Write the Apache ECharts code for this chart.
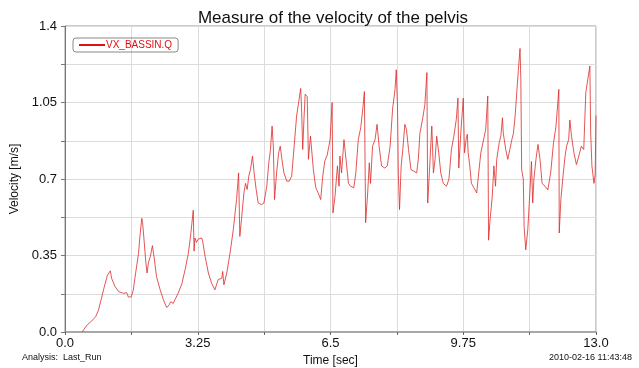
<!DOCTYPE html>
<html>
<head>
<meta charset="utf-8">
<script src="https://cdn.jsdelivr.net/npm/echarts@6/dist/echarts.min.js"></script>
<style>
  html, body { margin: 0; padding: 0; background: #fff; }
  #chart { width: 639px; height: 368px; }
</style>
</head>
<body>
<div id="chart"></div>
<script>
// time samples [sec]
const time = [
  0.42, 0.53, 0.65, 0.75, 0.82, 0.90, 0.98, 1.04, 1.11, 1.14, 1.22, 1.31, 1.43, 1.51, 1.55, 1.62,
  1.67, 1.73, 1.80, 1.84, 1.88, 1.90, 1.94, 1.98, 2.01, 2.04, 2.09, 2.14, 2.19, 2.24, 2.33, 2.41,
  2.49, 2.55, 2.59, 2.65, 2.69, 2.77, 2.86, 2.94, 3.02, 3.08, 3.14, 3.16, 3.18, 3.22, 3.26, 3.30,
  3.35, 3.37, 3.43, 3.51, 3.59, 3.67, 3.75, 3.84, 3.86, 3.89, 3.96, 4.04, 4.12, 4.20, 4.25, 4.28,
  4.32, 4.38, 4.42, 4.46, 4.50, 4.54, 4.59, 4.63, 4.68, 4.73, 4.81, 4.87, 4.94, 4.99, 5.03, 5.07,
  5.10, 5.13, 5.18, 5.23, 5.27, 5.31, 5.36, 5.43, 5.49, 5.55, 5.61, 5.67, 5.72, 5.77, 5.79, 5.82,
  5.85, 5.88, 5.93, 5.96, 6.01, 6.08, 6.14, 6.20, 6.26, 6.31, 6.36, 6.42, 6.49, 6.54, 6.56, 6.61,
  6.67, 6.71, 6.73, 6.77, 6.83, 6.88, 6.94, 6.99, 7.07, 7.12, 7.18, 7.24, 7.29, 7.33, 7.36, 7.41,
  7.45, 7.48, 7.53, 7.59, 7.64, 7.69, 7.75, 7.83, 7.89, 7.96, 8.02, 8.08, 8.11, 8.14, 8.16, 8.19,
  8.23, 8.27, 8.32, 8.36, 8.41, 8.47, 8.54, 8.61, 8.65, 8.69, 8.76, 8.81, 8.86, 8.88, 8.92, 8.98,
  9.02, 9.06, 9.10, 9.15, 9.20, 9.26, 9.34, 9.40, 9.46, 9.52, 9.58, 9.62, 9.64, 9.69, 9.75, 9.78,
  9.82, 9.85, 9.87, 9.91, 9.95, 10.01, 10.08, 10.12, 10.18, 10.24, 10.30, 10.35, 10.37, 10.40, 10.46, 10.50,
  10.54, 10.57, 10.63, 10.67, 10.71, 10.73, 10.79, 10.84, 10.89, 10.94, 10.98, 11.02, 11.06, 11.10, 11.14, 11.16,
  11.18, 11.22, 11.24, 11.28, 11.33, 11.38, 11.42, 11.45, 11.48, 11.53, 11.58, 11.63, 11.68, 11.75, 11.82, 11.89,
  11.96, 12.02, 12.09, 12.10, 12.14, 12.20, 12.24, 12.28, 12.33, 12.36, 12.40, 12.46, 12.52, 12.58, 12.64, 12.70,
  12.75, 12.80, 12.85, 12.87, 12.90, 12.95, 12.98, 13.0
]
// VX_BASSIN.Q velocity [m/s]
const velocity = [
  0.0, 0.03, 0.05, 0.07, 0.10, 0.16, 0.22, 0.26, 0.28, 0.246, 0.21, 0.185, 0.177, 0.18, 0.16, 0.16,
  0.19, 0.27, 0.36, 0.45, 0.52, 0.50, 0.41, 0.315, 0.27, 0.315, 0.346, 0.395, 0.33, 0.254, 0.193, 0.147,
  0.112, 0.124, 0.139, 0.13, 0.147, 0.177, 0.22, 0.285, 0.36, 0.45, 0.557, 0.37, 0.43, 0.41, 0.425, 0.42,
  0.43, 0.415, 0.346, 0.27, 0.223, 0.193, 0.24, 0.246, 0.277, 0.216, 0.27, 0.36, 0.468, 0.606, 0.728, 0.437,
  0.514, 0.636, 0.68, 0.652, 0.713, 0.743, 0.805, 0.728, 0.652, 0.59, 0.583, 0.59, 0.667, 0.774, 0.835, 0.942,
  0.85, 0.606, 0.728, 0.82, 0.85, 0.79, 0.728, 0.69, 0.69, 0.713, 0.85, 0.988, 1.05, 1.114, 1.034, 0.835,
  0.973, 1.088, 1.077, 0.79, 0.896, 0.743, 0.66, 0.636, 0.606, 0.713, 0.782, 0.81, 0.88, 1.05, 0.545, 0.62,
  0.76, 0.667, 0.805, 0.728, 0.88, 0.79, 0.68, 0.667, 0.66, 0.728, 0.88, 0.935, 1.02, 1.10, 0.50, 0.636,
  0.774, 0.68, 0.85, 0.88, 0.95, 0.85, 0.76, 0.75, 0.76, 0.85, 1.02, 1.11, 1.20, 1.034, 0.728, 0.56,
  0.76, 0.835, 0.95, 0.927, 0.835, 0.743, 0.736, 0.728, 0.79, 0.91, 0.98, 1.04, 1.187, 0.59, 0.728, 0.942,
  0.728, 0.79, 0.896, 0.82, 0.728, 0.68, 0.667, 0.70, 0.835, 0.896, 0.973, 1.07, 0.75, 0.91, 1.07, 0.82,
  0.88, 0.905, 0.82, 0.76, 0.68, 0.66, 0.636, 0.713, 0.82, 0.873, 0.927, 1.08, 0.42, 0.50, 0.62, 0.76,
  0.667, 0.79, 0.866, 0.896, 0.98, 0.91, 0.835, 0.79, 0.835, 0.88, 0.91, 0.988, 1.095, 1.20, 1.297, 1.157,
  0.743, 0.70, 0.483, 0.376, 0.468, 0.636, 0.78, 0.59, 0.70, 0.79, 0.858, 0.79, 0.68, 0.667, 0.65, 0.728,
  0.866, 0.94, 1.11, 0.453, 0.606, 0.728, 0.80, 0.85, 0.88, 0.97, 0.896, 0.82, 0.766, 0.805, 0.85, 0.835,
  1.095, 1.157, 1.217, 0.91, 0.76, 0.68, 0.72, 0.99
]
const xTickLabels = ['0.0', '3.25', '6.5', '9.75', '13.0']
const yTickLabels = ['0.0', '0.35', '0.7', '1.05', '1.4']

let myChart = echarts.init(document.getElementById('chart'))
let font = 'Liberation Sans'

let option = {
    animation: false,
    title: {
        text: 'Measure of the velocity of the pelvis',
        left: 328,
        textAlign: 'center',
        top: 5,
        textStyle: { fontFamily: font, fontSize: 17, fontWeight: 'normal', color: '#111' }
    },
    legend: {
        left: 73,
        top: 38,
        padding: [2, 6, 2, 6],
        borderColor: '#888',
        borderWidth: 1,
        borderRadius: 3,
        icon: 'rect',
        itemWidth: 26,
        itemHeight: 2,
        itemGap: 2,
        textStyle: { fontFamily: font, fontSize: 10, color: '#e01010', padding: [0, 0, 0, -4] },
        data: ['VX_BASSIN.Q']
    },
    grid: {
        left: 65, right: 43, top: 26, bottom: 36,
        outerBoundsMode: 'none',
        show: true, borderColor: '#999', borderWidth: 1
    },
    xAxis: {
        type: 'value',
        min: 0, max: 13, interval: 1.625,
        name: 'Time [sec]',
        nameLocation: 'middle',
        nameGap: 23,
        nameMoveOverlap: false,
        nameTextStyle: { fontFamily: font, fontSize: 12, color: '#111' },
        axisLine: { lineStyle: { color: '#999', width: 1.5 } },
        axisTick: { show: true, length: 3, lineStyle: { color: '#666' } },
        axisLabel: {
            fontFamily: font, fontSize: 13, color: '#111', margin: 5,
            formatter: (v) => {
                let k = Math.round(v / 1.625)
                return k % 2 ? '' : xTickLabels[k / 2]
            }
        },
        splitLine: { show: true, lineStyle: { color: '#dcdcdc' } }
    },
    yAxis: {
        type: 'value',
        min: 0, max: 1.4, interval: 0.175,
        name: 'Velocity [m/s]',
        nameLocation: 'middle',
        nameGap: 44,
        nameMoveOverlap: false,
        nameTextStyle: { fontFamily: font, fontSize: 12, color: '#111' },
        axisLine: { show: true, lineStyle: { color: '#777' } },
        axisTick: { show: true, length: 4, lineStyle: { color: '#777' } },
        axisLabel: {
            fontFamily: font, fontSize: 13, color: '#111', margin: 8,
            formatter: (v) => {
                let k = Math.round(v / 0.175)
                return k % 2 ? '' : yTickLabels[k / 2]
            }
        },
        splitLine: { show: true, lineStyle: { color: '#dcdcdc' } }
    },
    graphic: [
        {
            type: 'text', left: 22, top: 353,
            style: { text: 'Analysis:  Last_Run', font: '9px "Liberation Sans"', fill: '#111' }
        },
        {
            type: 'text', left: 549, top: 353,
            style: { text: '2010-02-16 11:43:48', font: '9px "Liberation Sans"', fill: '#111' }
        }
    ],
    series: [{
        name: 'VX_BASSIN.Q',
        type: 'line',
        showSymbol: false,
        color: '#e01010',
        lineStyle: { width: 0.8, color: '#dd2a2a' },
        data: time.map((t, i) => [t, velocity[i]])
    }]
}
myChart.setOption(option)
</script>
</body>
</html>
